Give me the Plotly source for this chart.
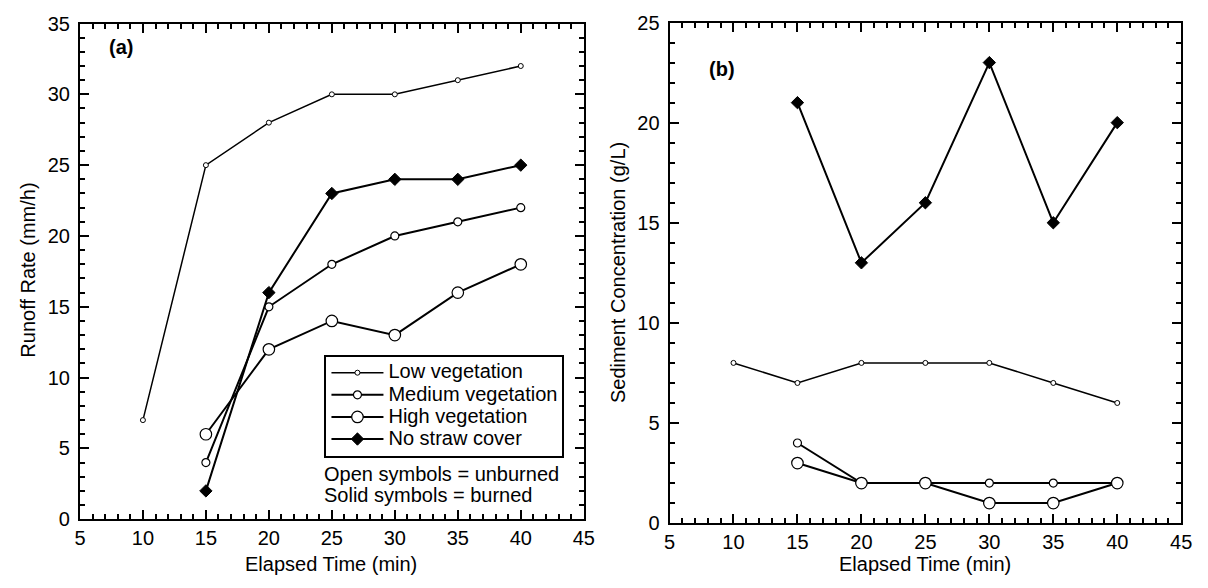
import plotly.graph_objects as go

# ---- data ----
time_low = [10, 15, 20, 25, 30, 35, 40]
time_other = [15, 20, 25, 30, 35, 40]

runoff_low = [7, 25, 28, 30, 30, 31, 32]
runoff_medium = [4, 15, 18, 20, 21, 22]
runoff_high = [6, 12, 14, 13, 16, 18]
runoff_nostraw = [2, 16, 23, 24, 24, 25]

sed_low = [8, 7, 8, 8, 8, 7, 6]
sed_medium = [4, 2, 2, 2, 2, 2]
sed_high = [3, 2, 2, 1, 1, 2]
sed_nostraw = [21, 13, 16, 23, 15, 20]

series_names = ["Low vegetation", "Medium vegetation", "High vegetation", "No straw cover"]
x_title = "Elapsed Time (min)"
ya_title = "Runoff Rate (mm/h)"
yb_title = "Sediment Concentration (g/L)"

W, H = 1208, 588
FONT = "Liberation Sans, Arial, sans-serif"
TXT = 20

fig = go.Figure()

styles = [
    dict(symbol="circle", size=5, color="white", lw=1.0, width=1.5),
    dict(symbol="circle", size=8, color="white", lw=1.2, width=2.0),
    dict(symbol="circle", size=11.5, color="white", lw=1.2, width=2.0),
    dict(symbol="diamond", size=9.5, color="black", lw=1.0, width=2.0),
]

a_data = [(time_low, runoff_low), (time_other, runoff_medium), (time_other, runoff_high), (time_other, runoff_nostraw)]
b_data = [(time_low, sed_low), (time_other, sed_medium), (time_other, sed_high), (time_other, sed_nostraw)]

for name, (x, y), st in zip(series_names, a_data, styles):
    fig.add_trace(go.Scatter(
        x=x, y=y, mode="lines+markers",
        name='<span style="font-size:%spx">%s</span>' % (TXT, name),
        xaxis="x", yaxis="y",
        line=dict(color="black", width=st["width"]),
        marker=dict(symbol=st["symbol"], size=st["size"], color=st["color"],
                    line=dict(color="black", width=st["lw"])),
        showlegend=True,
    ))

for name, (x, y), st in zip(series_names, b_data, styles):
    fig.add_trace(go.Scatter(
        x=x, y=y, mode="lines+markers", name=name, xaxis="x2", yaxis="y2",
        line=dict(color="black", width=st["width"]),
        marker=dict(symbol=st["symbol"], size=st["size"], color=st["color"],
                    line=dict(color="black", width=st["lw"])),
        showlegend=False,
    ))

def xd(a, b):
    return [a / W, b / W]

def yd(top, bottom):
    return [1 - bottom / H, 1 - top / H]

common = dict(
    showgrid=False, zeroline=False, showline=True, linecolor="black", linewidth=2,
    mirror="allticks", ticks="inside", ticklen=9, tickwidth=2, tickcolor="black",
    tickfont=dict(family=FONT, size=TXT, color="black"),
    minor=dict(ticks="inside", ticklen=5, tickwidth=1.6, tickcolor="black", dtick=1, showgrid=False),
    fixedrange=True,
)

def px_ann(text, x, y, size=TXT, angle=0, xanchor="center", bold=False):
    return dict(text="<b>%s</b>" % text if bold else text, x=x / W, y=1 - y / H,
                xref="paper", yref="paper", xanchor=xanchor, yanchor="middle",
                textangle=angle, showarrow=False, font=dict(size=size, family=FONT, color="black"))

fig.update_layout(
    width=W, height=H,
    margin=dict(l=0, r=0, t=0, b=0),
    paper_bgcolor="white", plot_bgcolor="white",
    font=dict(family=FONT, color="black"),
    xaxis=dict(domain=xd(75, 586), range=[5, 45], dtick=5, tick0=5, anchor="y", **common),
    yaxis=dict(domain=yd(13, 528), range=[0, 35], dtick=5, anchor="x", ticklabelstandoff=4, **common),
    xaxis2=dict(domain=xd(673, 1192), range=[5, 45], dtick=5, tick0=5, anchor="y2", **common),
    yaxis2=dict(domain=yd(12, 532), range=[0, 25], dtick=5, anchor="x2", ticklabelstandoff=4, **common),
    legend=dict(
        x=323 / W, y=1 - 357 / H, xanchor="left", yanchor="top",
        bordercolor="black", borderwidth=2, bgcolor="white",
        font=dict(family=FONT, size=14.7, color="black"),
        itemsizing="trace", tracegroupgap=0, itemwidth=52,
    ),
    annotations=[
        px_ann("(a)", 102, 37, xanchor="left", bold=True),
        px_ann("(b)", 711, 60, xanchor="left", bold=True),
        px_ann("Open symbols = unburned", 321, 481, xanchor="left"),
        px_ann("Solid symbols = burned", 321, 503, xanchor="left"),
        px_ann(x_title, 330, 574),
        px_ann(x_title, 932, 575),
        px_ann(ya_title, 22, 269, angle=-90),
        px_ann(yb_title, 621, 272, angle=-90),
    ],
)

fig.write_html("out.html")
